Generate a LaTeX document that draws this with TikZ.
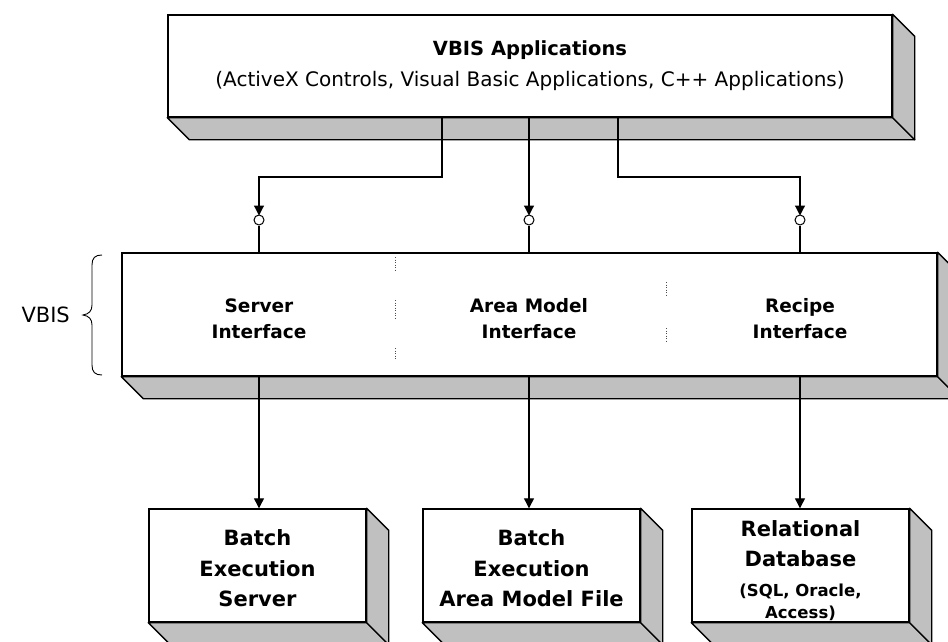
\documentclass[tikz,border=0pt]{standalone}
\usepackage{fontspec}
\setmainfont{DejaVu Sans}
\usetikzlibrary{arrows.meta,calc}
\definecolor{sidegray}{RGB}{192,192,192}
\newcommand{\depthfaces}[1]{%
  \filldraw[face] (#1.south west) -- (#1.south east) -- ($(#1.south east)+(22,22)$) -- ($(#1.south west)+(22,22)$) -- cycle;
  \filldraw[face] (#1.north east) -- ($(#1.north east)+(22,22)$) -- ($(#1.south east)+(22,22)$) -- (#1.south east) -- cycle;}
\tikzset{
  front/.style={draw, line width=1.4pt, fill=white, inner sep=0pt},
  face/.style={fill=sidegray, draw=black, line width=1.4pt, line join=round},
  conn/.style={line width=1.2pt},
  tipped/.style={conn, -{Triangle[length=10pt,width=10pt]}},
  port/.style={circle, draw, line width=1pt, fill=white, inner sep=0pt, minimum size=10pt},
  ttl/.style={font=\fontsize{19.5}{22}\selectfont\bfseries, anchor=base, inner sep=0pt},
  sub/.style={font=\fontsize{20}{22}\selectfont, anchor=base, inner sep=0pt},
  mid/.style={font=\fontsize{18.5}{22}\selectfont\bfseries, anchor=base, inner sep=0pt},
  bot/.style={font=\fontsize{21}{24}\selectfont\bfseries, anchor=base, inner sep=0pt},
  small/.style={font=\fontsize{16.5}{20}\selectfont\bfseries, anchor=base, inner sep=0pt},
  sep/.style={line width=0.9pt, black!70, dash pattern=on 1pt off 1.5pt}
}
\begin{document}
\begin{tikzpicture}[x=1pt,y=-1pt]
\clip (0,0) rectangle (948,642);
\fill[white] (0,0) rectangle (948,642);

% boxes (front faces)
\node[front, minimum width=724pt, minimum height=102pt] (apps) at (530,66) {};
\node[front, minimum width=815pt, minimum height=123pt] (vbis) at (529.5,314.5) {};
\node[front, minimum width=217pt, minimum height=113pt] (b1) at (257.5,565.5) {};
\node[front, minimum width=217pt, minimum height=113pt] (b2) at (531.5,565.5) {};
\node[front, minimum width=217pt, minimum height=113pt] (b3) at (800.5,565.5) {};
\depthfaces{apps}
\depthfaces{vbis}
\depthfaces{b1}
\depthfaces{b2}
\depthfaces{b3}

% texts
\node[ttl] (t0) at (530,56) {VBIS Applications};
\node[sub] (t0b) at (530,86) {(ActiveX Controls, Visual Basic Applications, C++ Applications)};

\node[mid] (s1) at (259,312) {Server};
\node[mid] (s2) at (259,338) {Interface};
\node[mid] (a1) at (529,312) {Area Model};
\node[mid] (a2) at (529,338) {Interface};
\node[mid] (r1) at (800,312) {Recipe};
\node[mid] (r2) at (800,338) {Interface};

\node[bot] (x1) at (257.5,545) {Batch};
\node[bot] (x2) at (257.5,576) {Execution};
\node[bot] (x3) at (257.5,606) {Server};
\node[bot] (y1) at (531.5,545) {Batch};
\node[bot] (y2) at (531.5,576) {Execution};
\node[bot] (y3) at (531.5,606) {Area Model File};
\node[bot] (z1) at (800.5,536) {Relational};
\node[bot] (z2) at (800.5,566) {Database};
\node[small] (z3) at (800.5,596) {(SQL, Oracle,};
\node[small] (z4) at (800.5,618) {Access)};

\node[font=\fontsize{21}{24}\selectfont, anchor=base east, inner sep=0pt] (vl) at (70,322) {VBIS};

% brace
\draw[line width=0.9pt] (102,255) .. controls (95,255) and (92,258) .. (92,265) -- (92,305)
  .. controls (92,311) and (89,314) .. (83,315) .. controls (89,316) and (92,319) .. (92,325)
  -- (92,365) .. controls (92,372) and (95,375) .. (102,375);

% dotted separators
\draw[sep] (395,257) -- (395,270);
\draw[sep] (395,300) -- (395,318);
\draw[sep] (395,348) -- (395,360);
\draw[sep] (666,282) -- (666,295);
\draw[sep] (666,328) -- (666,342);

% ports
\node[port] (p1) at (259,220) {};
\node[port] (p2) at (529,220) {};
\node[port] (p3) at (800,220) {};
\coordinate (h1) at (442,177);
\coordinate (h2) at (529,177);
\coordinate (h3) at (618,177);

% connectors from applications
\draw[tipped] (apps.south -| h1) -- (h1) -| ([yshift=-1pt]p1.north);
\draw[tipped] (apps.south -| h2) -- ([yshift=-1pt]p2.north);
\draw[tipped] (apps.south -| h3) -- (h3) -| ([yshift=-1pt]p3.north);
\draw[conn] (p1.south) -- (vbis.north -| p1);
\draw[conn] (p2.south) -- (vbis.north -| p2);
\draw[conn] (p3.south) -- (vbis.north -| p3);

% connectors to back ends
\draw[tipped] (vbis.south -| p1) -- (b1.north -| p1);
\draw[tipped] (vbis.south -| p2) -- (b2.north -| p2);
\draw[tipped] (vbis.south -| p3) -- (b3.north -| p3);
\end{tikzpicture}
\end{document}
